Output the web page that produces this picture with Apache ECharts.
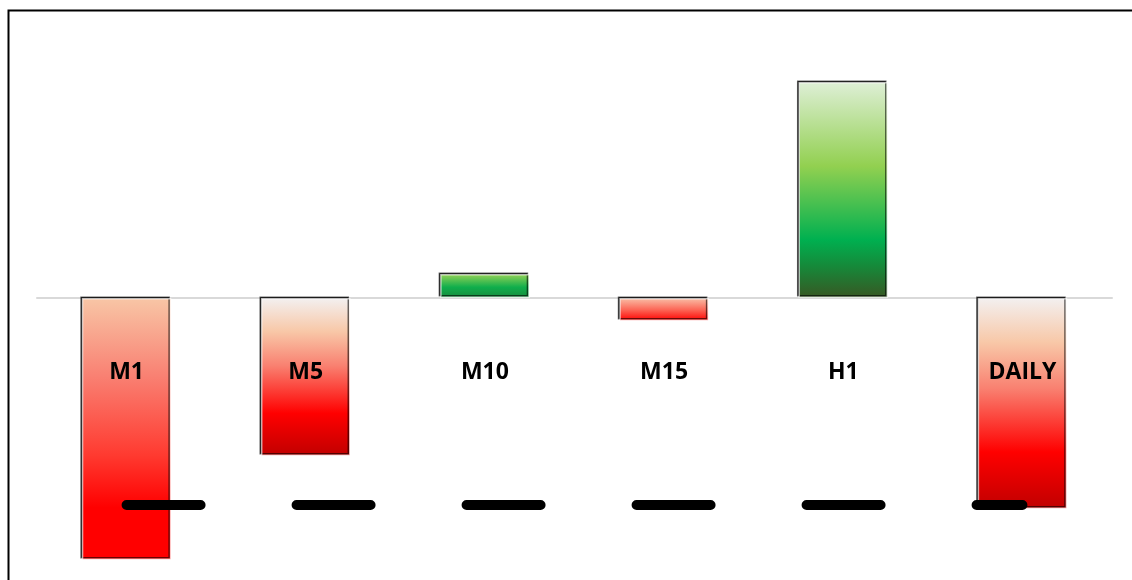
<!DOCTYPE html>
<html>
<head>
<meta charset="utf-8">
<title>Timeframe strength</title>
<script src="https://cdn.jsdelivr.net/npm/echarts@6/dist/echarts.min.js"></script>
<style>
  html, body { margin: 0; padding: 0; background: #fff; }
  #chart { width: 1132px; height: 580px; }
</style>
</head>
<body>
<div id="chart"></div>
<script>
// Timeframes and their readings
const categories = ['M1', 'M5', 'M10', 'M15', 'H1', 'DAILY'];
const barValues = [-65.5, -39.5, 6, -5.75, 54, -52.75];
const levelValues = [-51.75, -51.75, -51.75, -51.75, -51.75, -51.75];

// Vertical gradient for each bar (top -> bottom)
function grad(stops) {
  return new echarts.graphic.LinearGradient(0, 0, 0, 1,
    stops.map(s => ({ offset: s[0], color: s[1] })));
}
const redFull = [[0, '#f3f0f0'], [0.21, '#f8c8a8'], [0.43, '#f98070'], [0.73, '#ff0000'], [1, '#c00000']];
const barFills = [
  grad([[0, '#f8c6a6'], [0.3, '#f98072'], [0.6, '#ff3a30'], [0.8, '#ff0000'], [1, '#ff0000']]),
  grad(redFull),
  grad([[0, '#96d256'], [0.55, '#10ae4c'], [1, '#168a3c']]),
  grad([[0, '#f9c0a8'], [0.5, '#fc6858'], [1, '#ff0000']]),
  grad([[0, '#deefd6'], [0.39, '#92d050'], [0.73, '#00b050'], [0.85, '#158a3a'], [1, '#385723']]),
  grad(redFull)
];

const chart = echarts.init(document.getElementById('chart'), null, { renderer: 'canvas' });

chart.setOption({
  animation: false,
  backgroundColor: '#ffffff',
  graphic: [{
    type: 'rect',
    left: 6, top: 8,
    shape: { width: 1200, height: 700 },
    style: { fill: 'none', stroke: '#000', lineWidth: 2 },
    z: 100
  }],
  grid: [
    // plotting area
    { left: 37, right: 20, top: 48, bottom: 0, containLabel: false, outerBoundsMode: 'none' },
    // upper half only: its bottom edge sits on the zero line and carries the names
    { left: 37, right: 20, top: 48, bottom: 282, containLabel: false, outerBoundsMode: 'none' }
  ],
  xAxis: [{
    // grey zero line, beneath the bars
    gridIndex: 0,
    type: 'category',
    data: categories,
    axisLine: { show: true, onZero: true, lineStyle: { color: '#d9d9d9', width: 2 } },
    axisTick: { show: false },
    axisLabel: { show: false },
    splitLine: { show: false }
  }, {
    // category names, drawn above the bars
    gridIndex: 1,
    type: 'category',
    data: categories,
    position: 'bottom',
    z: 10,
    axisLine: { show: false },
    axisTick: { show: false },
    axisLabel: {
      show: true, margin: 63, color: '#000',
      fontFamily: 'Open Sans', fontWeight: 'bold', fontSize: 23
    },
    splitLine: { show: false }
  }],
  yAxis: [
    { gridIndex: 0, type: 'value', min: -70.5, max: 62.5, show: false, splitLine: { show: false } },
    { gridIndex: 1, type: 'value', min: 0, max: 1, show: false, splitLine: { show: false } }
  ],
  series: [{
    type: 'bar',
    xAxisIndex: 0,
    yAxisIndex: 0,
    barWidth: '50%',
    data: barValues.map((v, i) => ({
      value: v,
      itemStyle: { color: barFills[i] }
    })),
    itemStyle: {
      borderColor: 'rgba(255,255,255,0.65)',
      borderWidth: 1.5,
      shadowColor: 'rgba(0,0,0,0.9)',
      shadowBlur: 0,
      shadowOffsetX: -1.5,
      shadowOffsetY: -1.5
    }
  }, {
    type: 'line',
    xAxisIndex: 0,
    yAxisIndex: 0,
    data: levelValues,
    showSymbol: false,
    symbol: 'none',
    lineStyle: { color: '#000', width: 10, type: [74, 96], cap: 'round' },
    z: 3
  }]
});
</script>
</body>
</html>
